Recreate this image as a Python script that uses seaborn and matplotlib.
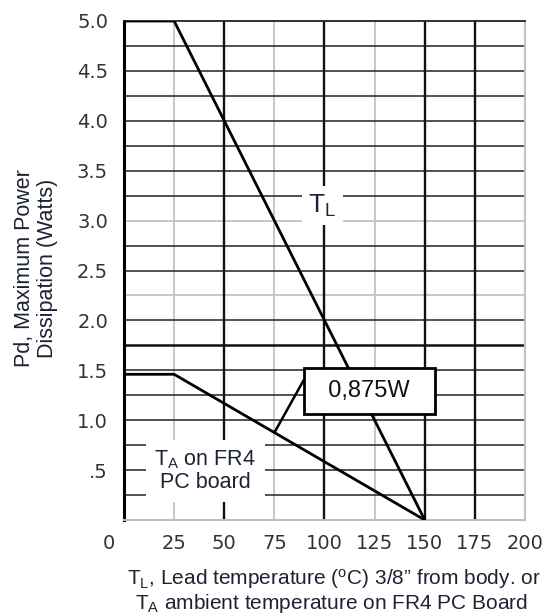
import numpy as np
import pandas as pd
import matplotlib
matplotlib.use("Agg")
import matplotlib.pyplot as plt
import matplotlib.transforms as mtransforms
import seaborn as sns

# derating curves (temperature in C, power in W)
temp_lead = [0, 25, 150]
pd_lead = [5.0, 5.0, 0.0]
temp_amb = [0, 25, 150]
pd_amb = [1.46, 1.46, 0.0]

# annotated point on the ambient curve
note_temp = 75
note_pd = 0.875
note_label = "0,875W"

x_ticks = [0, 25, 50, 75, 100, 125, 150, 175, 200]
x_ticklabels = ["0", "25", "50", "75", "100", "125", "150", "175", "200"]
y_ticks = [0.5, 1.0, 1.5, 2.0, 2.5, 3.0, 3.5, 4.0, 4.5, 5.0]
y_ticklabels = [".5", "1.0", "1.5", "2.0", "2.5", "3.0", "3.5", "4.0", "4.5", "5.0"]

# grid levels, dark and light as in the datasheet
x_grid_dark = [50, 100, 150, 175]
x_grid_light = [25, 75, 125]
y_grid_dark = [0.25, 0.5, 0.75, 1.0, 1.25, 1.5, 2.0, 2.5, 2.75, 3.25, 3.5, 3.75, 4.0, 4.25, 4.5, 4.75]
y_grid_heavy = [1.75]
y_grid_light = [2.25, 3.0]

sns.set_theme(style="white")
plt.rcParams["font.family"] = ["Liberation Sans", "DejaVu Sans"]
plt.rcParams["mathtext.fontset"] = "custom"
plt.rcParams["mathtext.rm"] = "Liberation Sans"
plt.rcParams["mathtext.it"] = "Liberation Sans"

fig = plt.figure(figsize=(5.55, 6.15), dpi=100)
ax = fig.add_axes([124 / 555, 95 / 615, 401 / 555, 499 / 615])

# grid
for x in x_grid_light:
    ax.axvline(x, color="#c4c4c4", lw=1.3, zorder=1)
for x in x_grid_dark:
    ax.axvline(x, color="#111111", lw=1.7, zorder=1.2)
for y in y_grid_light:
    ax.axhline(y, color="#c4c4c4", lw=1.3, zorder=1)
for y in y_grid_dark:
    ax.axhline(y, color="#222222", lw=1.1, zorder=1.1)
for y in y_grid_heavy:
    ax.axhline(y, color="#111111", lw=1.8, zorder=1.1)

lead_df = pd.DataFrame({"temp": temp_lead, "pd": pd_lead})
amb_df = pd.DataFrame({"temp": temp_amb, "pd": pd_amb})
sns.lineplot(data=lead_df, x="temp", y="pd", sort=False, color="black", lw=2.0, ax=ax, zorder=3)
sns.lineplot(data=amb_df, x="temp", y="pd", sort=False, color="black", lw=2.0, ax=ax, zorder=3)

ax.set_xlim(0, 200)
ax.set_ylim(0, 5.0)
ax.set_xlabel("")
ax.set_ylabel("")

ax.set_xticks(x_ticks)
ax.set_xticklabels(x_ticklabels)
ax.set_yticks(y_ticks)
ax.set_yticklabels(y_ticklabels)
ax.tick_params(axis="both", length=0, labelsize=14, labelcolor="#333333")
ax.tick_params(axis="x", pad=10)
ax.tick_params(axis="y", pad=11.5)
for lab in ax.get_xticklabels() + ax.get_yticklabels():
    lab.set_fontfamily("DejaVu Sans")
# first x label sits left of the axis
x0 = ax.get_xticklabels()[0]
x0.set_transform(x0.get_transform() + mtransforms.ScaledTranslation(-15 / 100, 0, fig.dpi_scale_trans))

ax.spines["left"].set_color("black")
ax.spines["left"].set_linewidth(2.2)
ax.spines["top"].set_color("#222222")
ax.spines["top"].set_linewidth(1.3)
ax.spines["right"].set_color("#c4c4c4")
ax.spines["right"].set_linewidth(1.6)
ax.spines["bottom"].set_color("#bdbdbd")
ax.spines["bottom"].set_linewidth(1.4)

# labels inside the plot
ax.text(99, 3.15, r"$\mathregular{T_L}$", fontsize=19, ha="center", va="center",
        color="#1c2333", zorder=2,
        bbox=dict(boxstyle="square,pad=0.25", fc="white", ec="none"))
ax.text(40.5, 0.49, "$\\mathregular{T_A}$ on FR4\nPC board", fontsize=15.5, ha="center", va="center",
        color="#1c2333", linespacing=1.05, zorder=2,
        bbox=dict(boxstyle="square,pad=0.4", fc="white", ec="none"))

ax.annotate("  " + note_label + "  ", xy=(note_temp, note_pd), xytext=(122.4, 1.29),
            fontsize=17, ha="center", va="center", color="#111111", zorder=5,
            bbox=dict(boxstyle="square,pad=0.5", fc="white", ec="black", lw=2),
            arrowprops=dict(arrowstyle="-", color="black", lw=1.8, relpos=(-0.11, 1.0),
                            patchA=None, shrinkA=0, shrinkB=0))

fig.text(36 / 555, 1 - 268 / 615, "Pd, Maximum Power\nDissipation (Watts)", rotation=90,
         fontsize=15.5, ha="center", va="center", multialignment="center",
         linespacing=1.15, color="#1c2333")
fig.text(334 / 555, 30 / 615, "$\\mathregular{T_L}$, Lead temperature ($\\mathregular{^o}$C) 3/8\u201d from body. or",
         fontsize=15, ha="center", va="baseline", color="#1c2333")
fig.text(331 / 555, 6 / 615, "$\\mathregular{T_A}$ ambient temperature on FR4 PC Board",
         fontsize=15, ha="center", va="baseline", color="#1c2333")

fig.savefig("out.png", dpi=100)
